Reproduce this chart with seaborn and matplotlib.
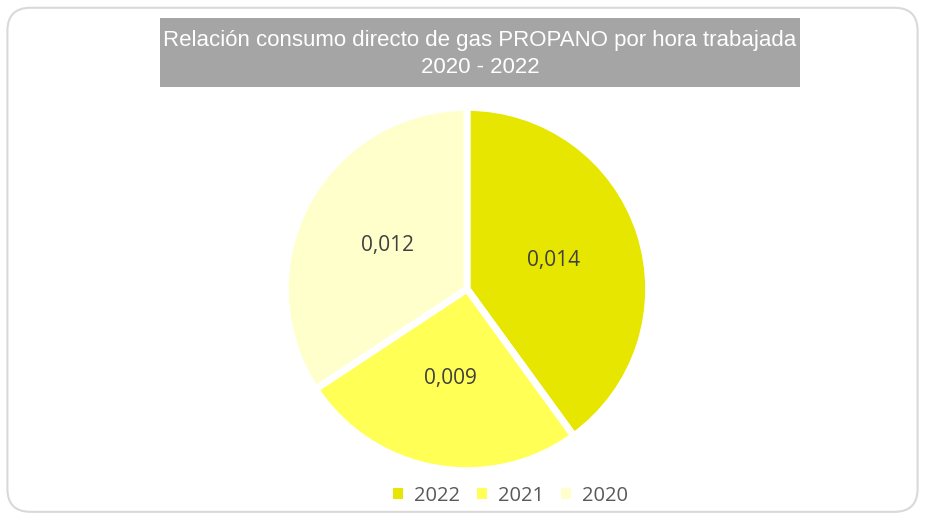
import matplotlib
matplotlib.use('Agg')
import matplotlib.pyplot as plt
import seaborn as sns
from matplotlib.patches import FancyBboxPatch, Patch, Rectangle

# data
years = ['2022', '2021', '2020']
values = [0.014, 0.009, 0.012]
colors = ['#E6E600', '#FFFF55', '#FFFFCC']
title = 'Relación consumo directo de gas PROPANO por hora trabajada\n2020 - 2022'

sns.set_theme(style='white')
plt.rcParams['font.family'] = ['Open Sans', 'DejaVu Sans']

fig = plt.figure(figsize=(9.25, 5.17), dpi=100)

# rounded chart border
border = FancyBboxPatch((0.008, 0.01), 0.984, 0.975, boxstyle='round,pad=0,rounding_size=0.025',
                        transform=fig.transFigure, facecolor='none', edgecolor='#D9D9D9',
                        linewidth=1.5, mutation_aspect=925 / 517, zorder=-1)
fig.patches.append(border)

ax = fig.add_axes([0.3124, 0.0967, 0.3849, 0.6886])
wedges, texts, autotexts = ax.pie(
    values, colors=colors, startangle=90, counterclock=False,
    autopct=lambda p: '{:.3f}'.format(p * sum(values) / 100).replace('.', ','),
    pctdistance=0.5, radius=1.0,
    wedgeprops={'edgecolor': 'white', 'linewidth': 5},
    textprops={'fontsize': 15, 'color': '#404040'}
)
ax.set_xlim(-0.98, 0.98)
ax.set_ylim(-0.98, 0.98)
ax.set_aspect('equal')

# title box
fig.patches.append(Rectangle((160 / 925, 1 - 87 / 517), 640 / 925, 69 / 517,
                             transform=fig.transFigure, facecolor='#A5A5A5', edgecolor='none'))
fig.text(480 / 925, 1 - 54 / 517, title, ha='center', va='center', fontsize=16, color='white',
         family=['Liberation Sans', 'DejaVu Sans'], linespacing=1.35)

handles = [Patch(facecolor=c, edgecolor='none') for c in colors]
leg = fig.legend(handles, years, loc='center', bbox_to_anchor=(0.552, 0.041), ncol=3,
                 frameon=False, fontsize=14.5, handlelength=0.5, handleheight=0.5,
                 columnspacing=0.85, handletextpad=0.55)
for t in leg.get_texts():
    t.set_color('#595959')

fig.savefig('out.png', dpi=100)
